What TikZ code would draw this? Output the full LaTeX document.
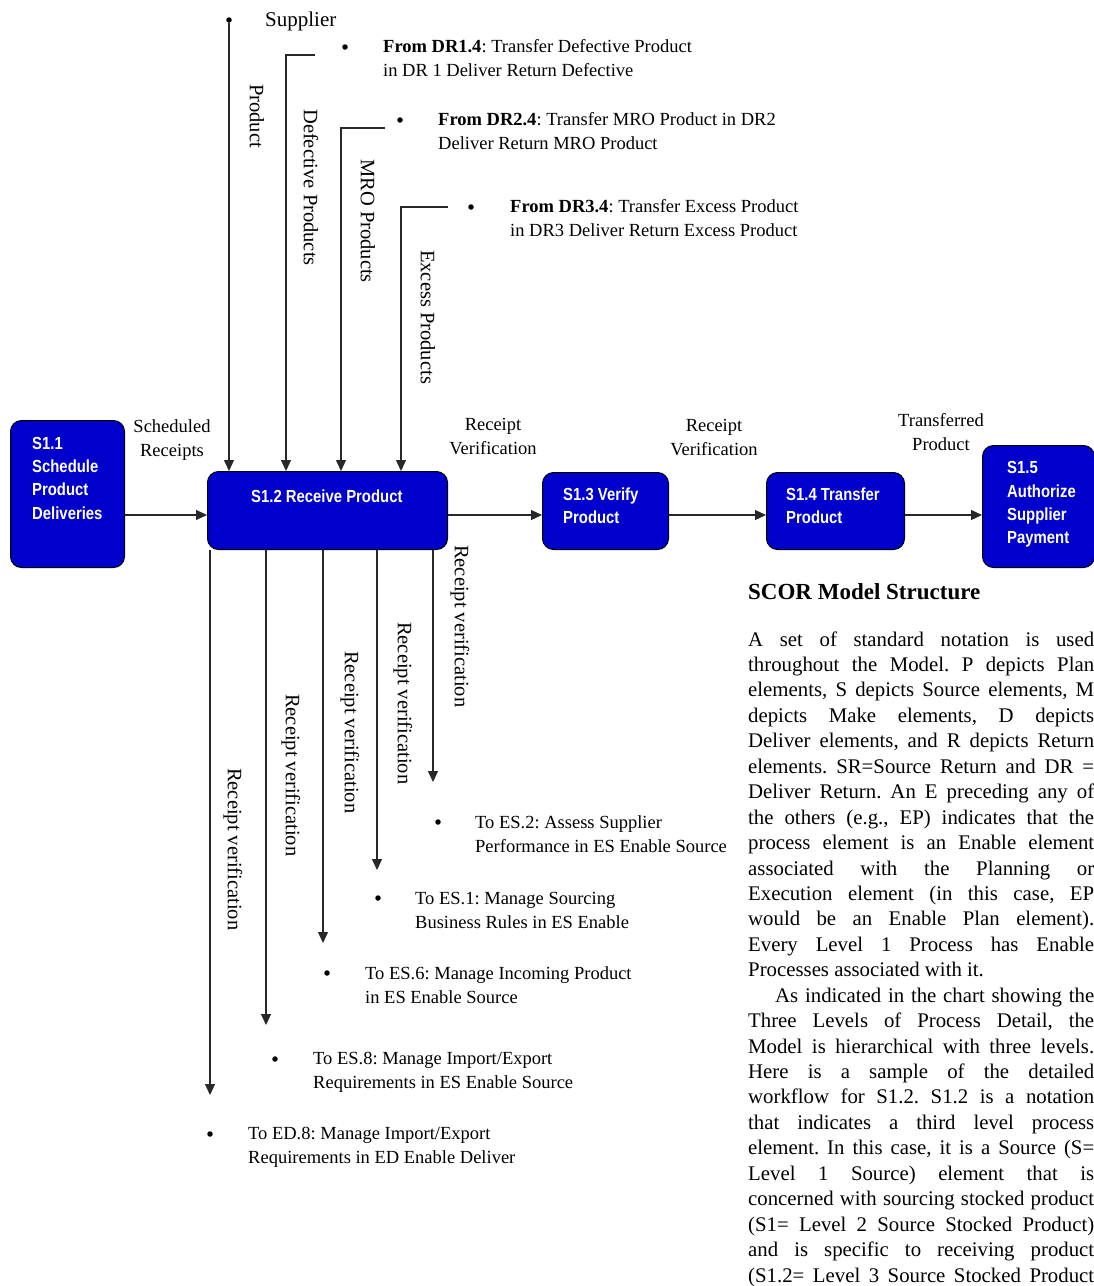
\documentclass[tikz,border=0pt]{standalone}
\usepackage{fontspec}
\setmainfont{Liberation Serif}
\newfontfamily\boxfont{Liberation Sans}[FakeStretch=0.85]
\usetikzlibrary{arrows.meta}
\definecolor{procblue}{RGB}{0,0,204}
\definecolor{linegray}{RGB}{40,40,40}
\frenchspacing

% two stacked lines whose baseline is the baseline of the first line
\newcommand\twolines[2]{\vtop{\hbox{#1}\hbox{#2}}}
% one justified line of the side text
\newcommand\jline[1]{\makebox[346pt][s]{#1}}

\tikzset{
  proc/.style={draw=black, line width=1pt, fill=procblue, rounded corners=11pt,
    inner sep=0pt, anchor=north west},
  proctext/.style={text=white, font=\boxfont\bfseries\fontsize{17.5}{23.5}\selectfont,
    anchor=base west, inner sep=0pt},
  flow/.style={line width=1.1pt, draw=linegray, -{Triangle[length=11pt,width=10pt]}},
  vlabel/.style={rotate=-90, anchor=west, inner sep=0pt, font=\fontsize{20.5}{24}\selectfont},
  lbl/.style={font=\fontsize{18.5}{24}\selectfont, align=center, inner sep=0pt},
  item/.style={font=\fontsize{18.5}{24}\selectfont, anchor=base west, inner sep=0pt},
  dot/.style={circle, fill=black, inner sep=0pt, minimum size=5.5pt},
  para/.style={font=\fontsize{20.8}{25.4}\selectfont, anchor=base west, inner sep=0pt},
}

\begin{document}
\begin{tikzpicture}[x=1pt, y=-1pt]
\useasboundingbox[fill=white] (0,0) rectangle (1094,1286);

% ---- process boxes ----
\node[proc, minimum width=114pt, minimum height=147pt] (s11) at (10,420) {};
\node[proc, minimum width=240pt, minimum height=78pt]  (s12) at (207,471) {};
\node[proc, minimum width=126pt, minimum height=77pt]  (s13) at (542,472) {};
\node[proc, minimum width=138pt, minimum height=77pt]  (s14) at (766,472) {};
\node[proc, minimum width=112pt, minimum height=122pt] (s15) at (982,445) {};

\node[proctext] (t11a) at (32,449) {S1.1};
\node[proctext] (t11b) at (32,472) {Schedule};
\node[proctext] (t11c) at (32,495) {Product};
\node[proctext] (t11d) at (32,519) {Deliveries};
\node[proctext] (t12)  at (251,502) {S1.2 Receive Product};
\node[proctext] (t13a) at (563,500) {S1.3 Verify};
\node[proctext] (t13b) at (563,523) {Product};
\node[proctext] (t14a) at (786,500) {S1.4 Transfer};
\node[proctext] (t14b) at (786,523) {Product};
\node[proctext] (t15a) at (1007,473) {S1.5};
\node[proctext] (t15b) at (1007,497) {Authorize};
\node[proctext] (t15c) at (1007,520) {Supplier};
\node[proctext] (t15d) at (1007,543) {Payment};

% ---- main flow ----
\coordinate (flowy) at (0,515);
\draw[flow] (s11.east |- flowy) -- (s12.west |- flowy);
\draw[flow] (s12.east |- flowy) -- (s13.west |- flowy);
\draw[flow] (s13.east |- flowy) -- (s14.west |- flowy);
\draw[flow] (s14.east |- flowy) -- (s15.west |- flowy);

\node[lbl] (l1) at (172,440) {Scheduled\\Receipts};
\node[lbl] (l2) at (493,437) {Receipt\\Verification};
\node[lbl] (l3) at (714,438) {Receipt\\Verification};
\node[lbl] (l4) at (941,432) {Transferred\\Product};

% ---- inputs from above ----
\node[dot] (supdot) at (229,20) {};
\node[font=\fontsize{21}{24}\selectfont, anchor=base west, inner sep=0pt] (supplier) at (265,26) {Supplier};

\node[dot] (d1dot) at (345,47) {};
\node[item] (d1txt) at (383,52) {\twolines{\textbf{From DR1.4}: Transfer Defective Product}{in DR 1 Deliver Return Defective}};
\node[dot] (d2dot) at (400,120) {};
\node[item] (d2txt) at (438,125) {\twolines{\textbf{From DR2.4}: Transfer MRO Product in DR2}{Deliver Return MRO Product}};
\node[dot] (d3dot) at (471,207) {};
\node[item] (d3txt) at (510,212) {\twolines{\textbf{From DR3.4}: Transfer Excess Product}{in DR3 Deliver Return Excess Product}};

\coordinate (d1end) at (315,55);
\coordinate (d2end) at (385,128);
\coordinate (d3end) at (448,207);
\coordinate (d1x) at (286,0);
\coordinate (d2x) at (341,0);
\coordinate (d3x) at (401,0);

\draw[flow] (supdot) -- (supdot |- s12.north);
\draw[flow] (d1end) -| (d1x |- s12.north);
\draw[flow] (d2end) -| (d2x |- s12.north);
\draw[flow] (d3end) -| (d3x |- s12.north);

\node[vlabel] (vprod) at (257,84) {Product};
\node[vlabel] (vdef)  at (311,109) {Defective Products};
\node[vlabel] (vmro)  at (368,159) {MRO Products};
\node[vlabel] (vexc)  at (428,250) {Excess Products};

% ---- outputs below ----
\coordinate (o1) at (210,1095);
\coordinate (o2) at (266,1025);
\coordinate (o3) at (323,943);
\coordinate (o4) at (377,870);
\coordinate (o5) at (433,782);
\foreach \o in {o1,o2,o3,o4,o5}
  \draw[flow] (\o |- s12.south) -- (\o);

\node[vlabel] (r1) at (233,768) {Receipt verification};
\node[vlabel] (r2) at (291,694) {Receipt verification};
\node[vlabel] (r3) at (350,651) {Receipt verification};
\node[vlabel] (r4) at (403,622) {Receipt verification};
\node[vlabel] (r5) at (460,545) {Receipt verification};

\node[dot] (e2dot) at (438,822) {};
\node[item] (e2txt) at (475,828) {\twolines{To ES.2: Assess Supplier}{Performance in ES Enable Source}};
\node[dot] (e1dot) at (378,898) {};
\node[item] (e1txt) at (415,904) {\twolines{To ES.1: Manage Sourcing}{Business Rules in ES Enable}};
\node[dot] (e6dot) at (327,973) {};
\node[item] (e6txt) at (365,979) {\twolines{To ES.6: Manage Incoming Product}{in ES Enable Source}};
\node[dot] (e8dot) at (275,1059) {};
\node[item] (e8txt) at (313,1064) {\twolines{To ES.8: Manage Import/Export}{Requirements in ES Enable Source}};
\node[dot] (d8dot) at (210,1134) {};
\node[item] (d8txt) at (248,1139) {\twolines{To ED.8: Manage Import/Export}{Requirements in ED Enable Deliver}};

% ---- side text ----
\node[font=\bfseries\fontsize{23}{26}\selectfont, anchor=base west, inner sep=0pt] (head) at (748,599) {SCOR Model Structure};

\node[para] (p01) at (748,646.0) {\jline{A set of standard notation is used}};
\node[para] (p02) at (748,671.4) {\jline{throughout the Model. P depicts Plan}};
\node[para] (p03) at (748,696.9) {\jline{elements, S depicts Source elements, M}};
\node[para] (p04) at (748,722.3) {\jline{depicts Make elements, D depicts}};
\node[para] (p05) at (748,747.8) {\jline{Deliver elements, and R depicts Return}};
\node[para] (p06) at (748,773.2) {\jline{elements. SR=Source Return and DR =}};
\node[para] (p07) at (748,798.6) {\jline{Deliver Return. An E preceding any of}};
\node[para] (p08) at (748,824.1) {\jline{the others (e.g., EP) indicates that the}};
\node[para] (p09) at (748,849.5) {\jline{process element is an Enable element}};
\node[para] (p10) at (748,875.0) {\jline{associated with the Planning or}};
\node[para] (p11) at (748,900.4) {\jline{Execution element (in this case, EP}};
\node[para] (p12) at (748,925.8) {\jline{would be an Enable Plan element).}};
\node[para] (p13) at (748,951.3) {\jline{Every Level 1 Process has Enable}};
\node[para] (p14) at (748,976.7) {Processes associated with it.};
\node[para] (p15) at (775,1002.2) {\makebox[319pt][s]{As indicated in the chart showing the}};
\node[para] (p16) at (748,1027.6) {\jline{Three Levels of Process Detail, the}};
\node[para] (p17) at (748,1053.0) {\jline{Model is hierarchical with three levels.}};
\node[para] (p18) at (748,1078.5) {\jline{Here is a sample of the detailed}};
\node[para] (p19) at (748,1103.9) {\jline{workflow for S1.2. S1.2 is a notation}};
\node[para] (p20) at (748,1129.4) {\jline{that indicates a third level process}};
\node[para] (p21) at (748,1154.8) {\jline{element. In this case, it is a Source (S=}};
\node[para] (p22) at (748,1180.2) {\jline{Level 1 Source) element that is}};
\node[para] (p23) at (748,1205.7) {\jline{concerned with sourcing stocked product}};
\node[para] (p24) at (748,1231.1) {\jline{(S1= Level 2 Source Stocked Product)}};
\node[para] (p25) at (748,1256.6) {\jline{and is specific to receiving product}};
\node[para] (p26) at (748,1282.0) {\jline{(S1.2= Level 3 Source Stocked Product}};
\end{tikzpicture}
\end{document}
